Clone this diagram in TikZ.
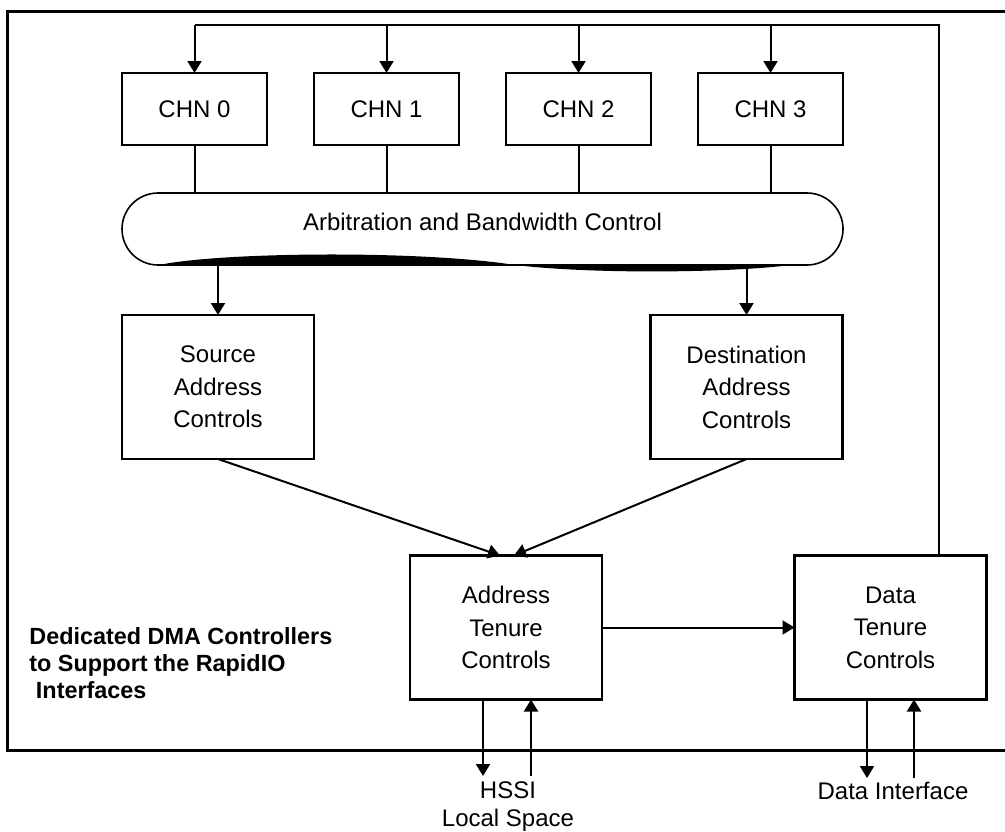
\documentclass[tikz,border=0pt]{standalone}
\usepackage{fontspec}
\setmainfont{Liberation Sans}
\usetikzlibrary{arrows.meta,positioning,calc,shapes.misc}

\begin{document}
\begin{tikzpicture}[x=0.5pt,y=-0.5pt,
  blk/.style={draw,line width=1.35pt,minimum width=96pt,minimum height=72pt,
              inner sep=0pt,outer sep=0pt,align=center,
              font=\fontsize{12}{16.25}\selectfont},
  chn/.style={draw,line width=1.35pt,minimum width=72.5pt,minimum height=36pt,
              inner sep=0pt,outer sep=0pt,font=\fontsize{12}{14}\selectfont},
  arr/.style={-{Triangle[length=6pt,width=7pt]},line width=1pt},
  wire/.style={line width=1pt},
  lbl/.style={align=center,inner sep=0pt,font=\fontsize{12}{14}\selectfont}
]
\useasboundingbox (0,0) rectangle (1005,831);
% frame, open on the right
\draw[line width=1.5pt] (1005,11) -- (7,11) -- (7,750) -- (1005,750);

\node[chn] (chn0) at (194.5,109) {CHN 0};
\node[chn,right=23.5pt of chn0] (chn1) {CHN 1};
\node[chn,right=23.5pt of chn1] (chn2) {CHN 2};
\node[chn,right=23.5pt of chn2] (chn3) {CHN 3};

\node[rounded rectangle,draw,line width=0.8pt,minimum width=360.5pt,
      minimum height=36pt,inner sep=0pt,outer sep=0pt,
      font=\fontsize{12}{14}\selectfont] (arb) at (482.5,229)
      {\raisebox{7pt}{Arbitration and Bandwidth Control}};
% heavy lower edge of the bar
\begin{scope}[shift={(arb.south)}]
\fill (-323.5,0) .. controls (-262.5,-13) and (-62.5,-15) .. (32.5,0)
      .. controls (117.5,10) and (257.5,7) .. (307.5,0) -- cycle;
\end{scope}

\node[blk] (src) at (218,387) {Source\\Address\\Controls};
\node[blk] (dst) at (746.5,387) {Destination\\Address\\Controls};
\node[blk] (atc) at (506,627.5) {Address\\Tenure\\Controls};
\node[blk] (dtc) at (890.5,627.5) {Data\\Tenure\\Controls};

\node[font=\fontsize{11.7}{13.3}\selectfont\bfseries,align=left,
      anchor=north west,inner sep=0pt] (note) at (29,627.5)
      {Dedicated DMA Controllers\\to Support the RapidIO\\\hspace*{.28em}Interfaces};

\node[lbl] (hssi) at (508,807) {HSSI\\Local Space};
\node[lbl] (dif) at (893,790.5) {Data Interface};

% feedback to the channels
\coordinate (fbtop) at (939,25);
\draw[wire] (dtc.north -| fbtop) -- (fbtop) -- (fbtop -| chn0.north);
\draw[arr] (chn0.north |- fbtop) -- (chn0.north);
\draw[arr] (chn1.north |- fbtop) -- (chn1.north);
\draw[arr] (chn2.north |- fbtop) -- (chn2.north);
\draw[arr] (chn3.north |- fbtop) -- (chn3.north);

\draw[wire] (chn0.south) -- (chn0.south |- arb.north);
\draw[wire] (chn1.south) -- (chn1.south |- arb.north);
\draw[wire] (chn2.south) -- (chn2.south |- arb.north);
\draw[wire] (chn3.south) -- (chn3.south |- arb.north);

\draw[arr] (src.north |- arb.south) -- (src.north);
\draw[arr] (dst.north |- arb.south) -- (dst.north);
\draw[arr] (src.south) -- ($(atc.north)+(-6,0)$);
\draw[arr] (dst.south) -- ($(atc.north)+(8,0)$);
\draw[arr] (atc.east) -- (dtc.west);

% external interfaces
\coordinate (hsout) at (508,776);
\coordinate (dout) at (893,778);
\coordinate (a1) at ($(atc.south)+(-23,0)$);
\coordinate (a2) at ($(atc.south)+(25,0)$);
\coordinate (d1) at ($(dtc.south)+(-23.5,0)$);
\coordinate (d2) at ($(dtc.south)+(23.5,0)$);
\draw[arr] (a1) -- (a1 |- hsout);
\draw[arr] (a2 |- hsout) -- (a2);
\draw[arr] (d1) -- (d1 |- dout);
\draw[arr] (d2 |- dout) -- (d2);
\end{tikzpicture}
\end{document}
